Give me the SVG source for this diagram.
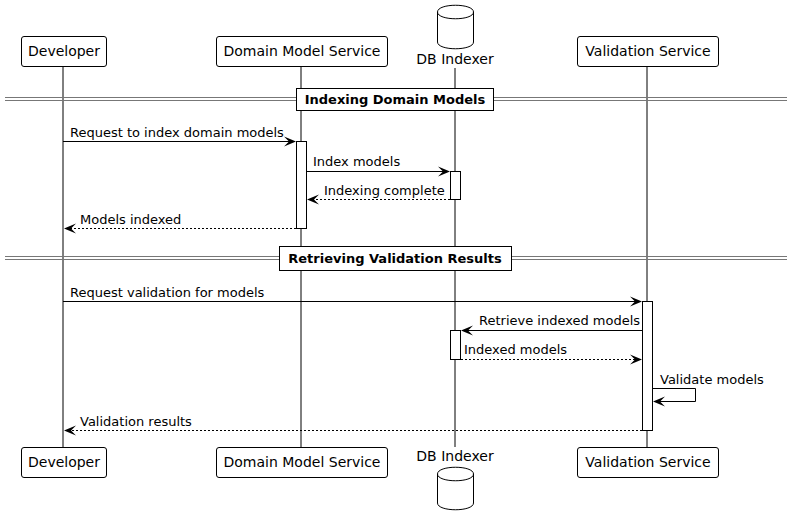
<svg xmlns="http://www.w3.org/2000/svg" width="792" height="526" viewBox="0 0 792 526">
<style>
.box{fill:#fff;stroke:#000;stroke-width:1}
.life{stroke:#000;stroke-width:1}
.msg{stroke:#000;stroke-width:1;fill:none}
.dash{stroke-dasharray:2,2}
.t{font-family:"DejaVu Sans",sans-serif;font-size:13px;fill:#000}
.p{font-family:"DejaVu Sans",sans-serif;font-size:14px;fill:#000;text-anchor:middle}
.b{font-family:"DejaVu Sans",sans-serif;font-size:13px;font-weight:bold;fill:#000;text-anchor:middle}
.dl{stroke:#777;stroke-width:1}
.act{fill:#fff;stroke:#000;stroke-width:1}
</style>
<defs>
<path id="ahR" d="M0,0 L-12,-5 L-7,0 L-12,5 Z" fill="#000"/>
<path id="ahL" d="M0,0 L12,-5 L7,0 L12,5 Z" fill="#000"/>
</defs>
<g id="lifelines">
<line class="life" x1="63" y1="66" x2="63" y2="447"/>
<line class="life" x1="301" y1="66" x2="301" y2="447"/>
<line class="life" x1="455" y1="68" x2="455" y2="447"/>
<line class="life" x1="647" y1="66" x2="647" y2="447"/>
</g>
<g id="divider1">
<line class="dl" x1="5" y1="97.5" x2="787" y2="97.5"/>
<line class="dl" x1="5" y1="100.5" x2="787" y2="100.5"/>
<rect class="box" x="296.5" y="88.5" width="197" height="22"/>
<text class="b" x="395" y="104">Indexing Domain Models</text>
</g>
<g id="divider2">
<line class="dl" x1="5" y1="256.5" x2="787" y2="256.5"/>
<line class="dl" x1="5" y1="259.5" x2="787" y2="259.5"/>
<rect class="box" x="279.5" y="246.5" width="232" height="24"/>
<text class="b" x="395" y="263">Retrieving Validation Results</text>
</g>
<g id="activations">
<rect class="act" x="296.5" y="141.5" width="10" height="87"/>
<rect class="act" x="450.5" y="171.5" width="10" height="28"/>
<rect class="act" x="642.5" y="301.5" width="10" height="129"/>
<rect class="act" x="450.5" y="330.5" width="10" height="29"/>
</g>
<g id="connectors">
<line class="msg" x1="63" y1="141.5" x2="292" y2="141.5"/><use href="#ahR" x="296" y="141.5"/>
<text class="t" x="70" y="137">Request to index domain models</text>
<line class="msg" x1="306" y1="171.5" x2="446" y2="171.5"/><use href="#ahR" x="450" y="171.5"/>
<text class="t" x="313" y="166">Index models</text>
<line class="msg dash" x1="450" y1="199.5" x2="311" y2="199.5"/><use href="#ahL" x="307" y="199.5"/>
<text class="t" x="324" y="195">Indexing complete</text>
<line class="msg dash" x1="296" y1="228.5" x2="68" y2="228.5"/><use href="#ahL" x="64" y="228.5"/>
<text class="t" x="80" y="224">Models indexed</text>
<line class="msg" x1="63" y1="301.5" x2="638" y2="301.5"/><use href="#ahR" x="642" y="301.5"/>
<text class="t" x="70" y="297">Request validation for models</text>
<line class="msg" x1="642" y1="330.5" x2="465" y2="330.5"/><use href="#ahL" x="461" y="330.5"/>
<text class="t" x="479" y="325">Retrieve indexed models</text>
<line class="msg dash" x1="461" y1="359.5" x2="638" y2="359.5"/><use href="#ahR" x="642" y="359.5"/>
<text class="t" x="464" y="354">Indexed models</text>
<polyline class="msg" points="653,388.5 695.5,388.5 695.5,401.5 657,401.5"/><use href="#ahL" x="653" y="401.5"/>
<text class="t" x="660" y="384">Validate models</text>
<line class="msg dash" x1="642" y1="430.5" x2="68" y2="430.5"/><use href="#ahL" x="64" y="430.5"/>
<text class="t" x="80" y="426">Validation results</text>
</g>
<g id="p-developer">
<rect class="box" x="21.5" y="36.5" width="85" height="30" rx="2.5"/>
<text class="p" x="64" y="56">Developer</text>
<rect class="box" x="21.5" y="447.5" width="85" height="30" rx="2.5"/>
<text class="p" x="64" y="467">Developer</text>
</g>
<g id="p-domain">
<rect class="box" x="216.5" y="36.5" width="171" height="30" rx="2.5"/>
<text class="p" x="302" y="56">Domain Model Service</text>
<rect class="box" x="216.5" y="447.5" width="171" height="30" rx="2.5"/>
<text class="p" x="302" y="467">Domain Model Service</text>
</g>
<g id="p-db">
<path class="box" d="M437.5,12 C437.5,3 473.5,3 473.5,12 L473.5,42 C473.5,51 437.5,51 437.5,42 Z"/>
<path class="msg" d="M437.5,12 C437.5,21 473.5,21 473.5,12"/>
<text class="p" x="455" y="64">DB Indexer</text>
<text class="p" x="455" y="461">DB Indexer</text>
<path class="box" d="M437.5,474 C437.5,465 473.5,465 473.5,474 L473.5,503 C473.5,512 437.5,512 437.5,503 Z"/>
<path class="msg" d="M437.5,474 C437.5,483 473.5,483 473.5,474"/>
</g>
<g id="p-validation">
<rect class="box" x="577.5" y="36.5" width="141" height="30" rx="2.5"/>
<text class="p" x="648" y="56">Validation Service</text>
<rect class="box" x="577.5" y="447.5" width="141" height="30" rx="2.5"/>
<text class="p" x="648" y="467">Validation Service</text>
</g>
</svg>
